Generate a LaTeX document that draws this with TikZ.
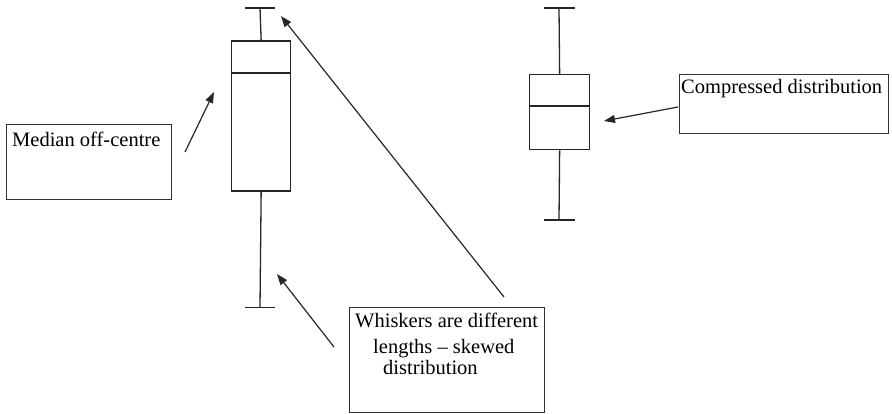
\documentclass[tikz,border=0pt]{standalone}
\usepackage{fontspec}
\setmainfont{Liberation Serif}
\usetikzlibrary{arrows.meta}
\begin{document}
\begin{tikzpicture}[x=1pt,y=-1pt,
  plotline/.style={line width=1.3pt,black!85},
  callout/.style={draw=black!80,line width=1pt,inner sep=0pt,anchor=north west},
  lbl/.style={anchor=base west,inner sep=0pt,font=\fontsize{20.5}{22}\selectfont},
  pointer/.style={line width=1.2pt,black!85,-{Triangle[length=11pt,width=8pt]}}]
\useasboundingbox (0,0) rectangle (892,414);
% left boxplot
\node[draw=black!85,line width=1.3pt,minimum width=59pt,minimum height=150pt,inner sep=0pt,anchor=north west] (lbox) at (231,40.5) {};
\coordinate (lmed1) at (231,73);
\coordinate (lmed2) at (290,73);
\draw[plotline] (lmed1) -- (lmed2);
\coordinate (ltopcap) at (260,8);
\coordinate (lbotcap) at (260,307.5);
\draw[plotline] (lbox.north) -- (ltopcap);
\draw[plotline] (lbox.south) -- (lbotcap);
\draw[plotline] ([xshift=-15pt]ltopcap) -- ([xshift=15pt]ltopcap);
\draw[plotline] ([xshift=-15pt]lbotcap) -- ([xshift=15pt]lbotcap);
% right boxplot
\node[draw=black!85,line width=1.3pt,minimum width=60pt,minimum height=75pt,inner sep=0pt,anchor=north west] (rbox) at (529,74) {};
\coordinate (rmed1) at (529,106);
\coordinate (rmed2) at (589,106);
\draw[plotline] (rmed1) -- (rmed2);
\coordinate (rtopcap) at (559,8);
\coordinate (rbotcap) at (559,220);
\draw[plotline] (rbox.north) -- (rtopcap);
\draw[plotline] (rbox.south) -- (rbotcap);
\draw[plotline] ([xshift=-15.5pt]rtopcap) -- ([xshift=15.5pt]rtopcap);
\draw[plotline] ([xshift=-15.5pt]rbotcap) -- ([xshift=15.5pt]rbotcap);
% callout boxes
\node[callout,minimum width=165pt,minimum height=75pt] (medbox) at (6,124) {};
\node[lbl] (medtxt) at (12,147) {Median off-centre};
\node[callout,minimum width=209pt,minimum height=59pt] (compbox) at (679,74) {};
\node[lbl] (comptxt) at (681,94) {Compressed distribution};
\node[callout,minimum width=195pt,minimum height=105pt] (whbox) at (349,307) {};
\node[lbl] (wh1) at (355,327) {Whiskers are different};
\node[lbl] (wh2) at (373,353) {lengths – skewed};
\node[lbl] (wh3) at (383,374) {distribution};
% pointers
\coordinate (p1s) at (185,152);
\coordinate (p1e) at (214,92);
\draw[pointer] (p1s) -- (p1e);
\coordinate (p2s) at (504,297);
\coordinate (p2e) at (281,16);
\draw[pointer] (p2s) -- (p2e);
\coordinate (p3s) at (334,347);
\coordinate (p3e) at (277,274);
\draw[pointer] (p3s) -- (p3e);
\coordinate (p4s) at (678,107);
\coordinate (p4e) at (604,121);
\draw[pointer] (p4s) -- (p4e);
\end{tikzpicture}
\end{document}
